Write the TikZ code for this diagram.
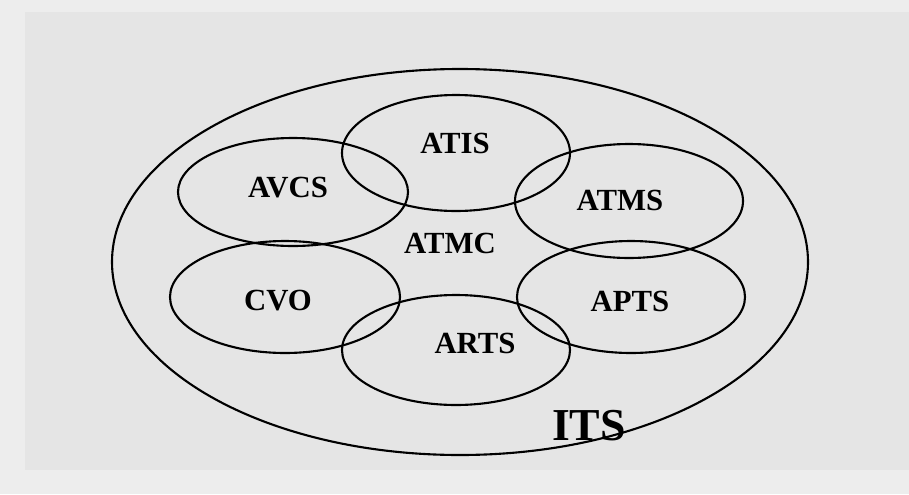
\documentclass[tikz,border=0pt]{standalone}
\usepackage{fontspec}
\setmainfont{Liberation Serif}
\usepackage{xcolor}
\usepackage{tikz}
\definecolor{paper}{HTML}{E5E5E5}
\definecolor{margin}{HTML}{EDEDED}

\begin{document}
\begin{tikzpicture}[x=0.02cm, y=-0.02cm,
  ring/.style={draw, line width=1.2pt},
  lbl/.style={font=\bfseries\fontsize{17.5}{20}\selectfont, inner sep=0pt}]
\fill[margin] (0,0) rectangle (909,494);
\fill[paper] (25,12) rectangle (909,470);
\useasboundingbox (0,0) rectangle (909,494);
% whole system
\draw[ring] (460,262) ellipse [x radius=348, y radius=193];
% sub-systems
\draw[ring] (456,153) ellipse [x radius=114, y radius=58];
\draw[ring] (293,192) ellipse [x radius=115, y radius=54];
\draw[ring] (629,201) ellipse [x radius=114, y radius=57];
\draw[ring] (285,297) ellipse [x radius=115, y radius=56];
\draw[ring] (631,297) ellipse [x radius=114, y radius=56];
\draw[ring] (456,350) ellipse [x radius=114, y radius=55];
% labels
\node[lbl] (atis) at (455,143) {ATIS};
\node[lbl] (avcs) at (288,188) {AVCS};
\node[lbl] (atms) at (620,200) {ATMS};
\node[lbl] (atmc) at (450,243) {ATMC};
\node[lbl] (cvo) at (278,301) {CVO};
\node[lbl] (apts) at (630,301) {APTS};
\node[lbl] (arts) at (475,343) {ARTS};
\node[font=\bfseries\fontsize{26}{30}\selectfont, inner sep=0pt] (its) at (589,426) {ITS};
\end{tikzpicture}
\end{document}
